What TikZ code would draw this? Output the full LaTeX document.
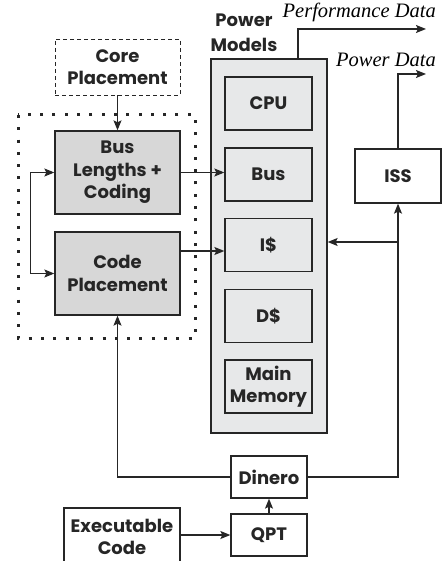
\documentclass[tikz,border=0pt]{standalone}
\usepackage{fontspec}
\setmainfont{Poppins}
\newfontfamily\dataface{Liberation Serif}
\usetikzlibrary{arrows.meta,calc}
\definecolor{ink}{RGB}{38,38,38}
\definecolor{shade}{RGB}{215,215,215}
\definecolor{pale}{RGB}{231,232,233}

\tikzset{
    blk/.style={draw=ink, line width=1.3pt, align=center, inner sep=0pt,
        font=\fontsize{18}{22.5}\selectfont\bfseries, text=ink},
    unit/.style={blk, minimum width=87pt, minimum height=53pt},
    link/.style={draw=ink, line width=1.3pt, -{Stealth[length=10pt,width=8pt,inset=2pt]}}
}

\begin{document}
\begin{tikzpicture}[x=1pt, y=-1pt]
    \useasboundingbox (0,0) rectangle (442,561);

    % Power model column with its blocks
    \node[blk, fill=pale, minimum width=116pt, minimum height=374pt] (power) at (269,246) {};
    \node[blk, draw=none, font=\fontsize{18}{25}\selectfont\bfseries] (powlab) at (244,33) {Power\\Models};
    \node[unit] (cpu) at (268.5,103.5) {CPU};
    \node[unit] (bus) at (268.5,174.5) {Bus};
    \node[unit] (icache) at (268.5,245) {I\$};
    \node[unit] (dcache) at (268.5,316) {D\$};
    \node[unit] (mainmem) at (268.5,386.5) {Main\\Memory};

    % Optimisation loop
    \draw[ink, line width=3pt, dash pattern=on 3pt off 9.3pt] (18,115) rectangle (195,338);
    \node[blk, dashed, dash pattern=on 4pt off 3pt, line width=0.9pt, minimum width=125pt, minimum height=56pt] (core) at (117.5,67) {Core\\Placement};
    \node[blk, fill=shade, minimum width=125pt, minimum height=83pt] (buslen) at (117.5,172.5) {Bus\\Lengths +\\Coding};
    \node[blk, fill=shade, minimum width=125pt, minimum height=83pt] (codepl) at (117.5,273.5) {Code\\Placement};

    % Simulators
    \node[blk, minimum width=86pt, minimum height=54pt] (iss) at (398,176) {ISS};
    \node[blk, minimum width=76pt, minimum height=42pt] (dinero) at (269,477) {Dinero};
    \node[blk, minimum width=76pt, minimum height=42pt] (qpt) at (269,535) {QPT};
    \node[blk, minimum width=116pt, minimum height=58pt] (exe) at (122,537) {Executable\\Code};

    % Outputs
    \coordinate (perf) at (426,29);
    \coordinate (pwr) at (426,74);
    \node[font=\fontsize{20.5}{24}\selectfont\dataface\itshape, anchor=south east, inner sep=0pt] at (436,22) {Performance Data};
    \node[font=\fontsize{20.5}{24}\selectfont\dataface\itshape, anchor=south east, inner sep=0pt] at (436,67) {Power Data};
    \draw[link] (power.north -| 298,0) |- (perf);
    \draw[link] (iss.north) |- (pwr);

    % Connections
    \draw[link] (core) -- (buslen);
    \draw[link] (buslen.east) -- (buslen.east -| bus.west);
    \draw[link] ([yshift=-6pt]icache.west -| codepl.east) -- ([yshift=-6pt]icache.west);
    \draw[link, {Stealth[length=10pt,width=8pt,inset=2pt]}-{Stealth[length=10pt,width=8pt,inset=2pt]}] (buslen.west) -- ++(-24,0) |- (codepl.west);
    \draw[link] (exe.east |- qpt) -- (qpt);
    \draw[link] (qpt) -- (dinero);
    \draw[link] (dinero.west) -| (codepl.south);
    \draw[link] (dinero.east) -| (iss.south);
    \draw[link] (iss.south |- 0,242) -- (power.east |- 0,242);
\end{tikzpicture}
\end{document}
